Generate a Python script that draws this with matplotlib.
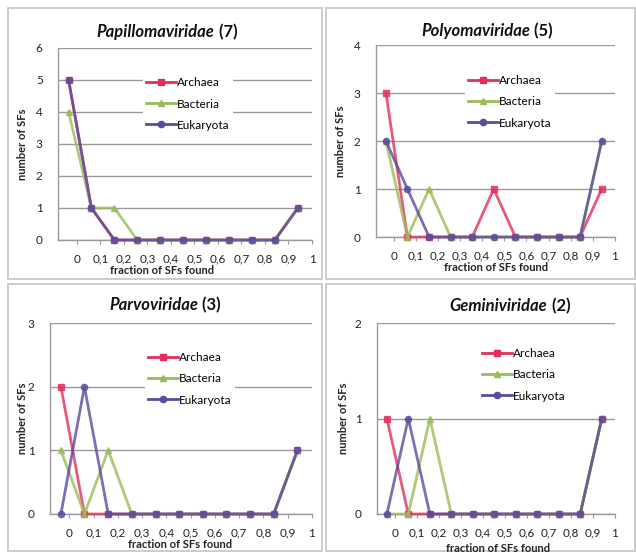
import matplotlib
matplotlib.use("Agg")
import matplotlib.pyplot as plt
from matplotlib.patches import Rectangle
from matplotlib.lines import Line2D
from matplotlib.offsetbox import TextArea, HPacker, AnchoredOffsetbox

plt.rcParams['font.family'] = ['Lato', 'DejaVu Sans']

W, H = 636, 552

# ---- data ----
bin_x = [-0.035, 0.062, 0.16, 0.257, 0.355, 0.452, 0.55, 0.647, 0.745, 0.842, 0.94]
tick_vals = [0, 0.1, 0.2, 0.3, 0.4, 0.5, 0.6, 0.7, 0.8, 0.9, 1]
tick_labels = ["0", "0,1", "0,2", "0,3", "0,4", "0,5", "0,6", "0,7", "0,8", "0,9", "1"]
series_names = ["Archaea", "Bacteria", "Eukaryota"]

families = ["Papillomaviridae", "Polyomaviridae", "Parvoviridae", "Geminiviridae"]
family_counts = ["7", "5", "3", "2"]
y_max = [6, 4, 3, 2]

papillo_archaea = [5, 1, 0, 0, 0, 0, 0, 0, 0, 0, 1]
papillo_bacteria = [4, 1, 1, 0, 0, 0, 0, 0, 0, 0, 1]
papillo_eukaryota = [5, 1, 0, 0, 0, 0, 0, 0, 0, 0, 1]

polyoma_archaea = [3, 0, 0, 0, 0, 1, 0, 0, 0, 0, 1]
polyoma_bacteria = [2, 0, 1, 0, 0, 0, 0, 0, 0, 0, 2]
polyoma_eukaryota = [2, 1, 0, 0, 0, 0, 0, 0, 0, 0, 2]

parvo_archaea = [2, 0, 0, 0, 0, 0, 0, 0, 0, 0, 1]
parvo_bacteria = [1, 0, 1, 0, 0, 0, 0, 0, 0, 0, 1]
parvo_eukaryota = [0, 2, 0, 0, 0, 0, 0, 0, 0, 0, 1]

gemini_archaea = [1, 0, 0, 0, 0, 0, 0, 0, 0, 0, 1]
gemini_bacteria = [0, 0, 1, 0, 0, 0, 0, 0, 0, 0, 1]
gemini_eukaryota = [0, 1, 0, 0, 0, 0, 0, 0, 0, 0, 1]

panel_data = [
    [papillo_archaea, papillo_bacteria, papillo_eukaryota],
    [polyoma_archaea, polyoma_bacteria, polyoma_eukaryota],
    [parvo_archaea, parvo_bacteria, parvo_eukaryota],
    [gemini_archaea, gemini_bacteria, gemini_eukaryota],
]

# ---- style ----
colors = ["#e2305a", "#9bbb59", "#5a4c9e"]
markers = ["s", "^", "o"]
grid_col = "#9a9a9a"
frame_col = "#c8c8c8"

# layout in pixels: (left, right, top, bottom)
axes_px = [(58, 312, 48, 240), (376, 615, 45, 237), (50, 312, 323, 514), (377, 615, 323, 514)]
frames_px = [(8, 322, 8, 279), (326, 635, 8, 279), (8, 322, 284, 551), (326, 635, 284, 551)]
title_px = [(167, 32), (487, 31), (165, 305), (510, 306)]
ylabel_px = [(22, 144), (340, 141), (22, 418), (343, 418)]
xlabel_px = [(162, 270), (496, 268), (180, 544), (498, 548)]
legend_px = [(188, 104), (510, 102), (190, 379), (524, 375)]

fig = plt.figure(figsize=(W / 100, H / 100), dpi=100)
fig.patch.set_facecolor("white")

for (l, r, t, b) in frames_px:
    fig.add_artist(Rectangle((l / W, 1 - b / H), (r - l) / W, (b - t) / H,
                             transform=fig.transFigure, fill=False,
                             edgecolor=frame_col, linewidth=1.3))

for i in range(4):
    l, r, t, b = axes_px[i]
    ax = fig.add_axes([l / W, 1 - b / H, (r - l) / W, (b - t) / H])
    ax.set_xlim(-0.08, 1.0)
    ax.set_ylim(0, y_max[i])
    ax.set_yticks(range(0, y_max[i] + 1))
    ax.set_xticks(tick_vals)
    ax.set_xticklabels(tick_labels)
    ax.tick_params(axis='x', length=3, color=grid_col, labelsize=8.5, pad=7, labelcolor="#222222")
    ax.tick_params(axis='y', length=0, labelsize=8.5, pad=11, labelcolor="#222222")
    for s in ["top", "right"]:
        ax.spines[s].set_visible(False)
    for s in ["left", "bottom"]:
        ax.spines[s].set_color(grid_col)
        ax.spines[s].set_linewidth(1.0)
    ax.yaxis.grid(True, color=grid_col, linewidth=1.0)
    ax.set_axisbelow(True)

    for k in range(3):
        ax.plot(bin_x, panel_data[i][k], color=colors[k], marker=markers[k],
                markersize=4.5, linewidth=2.0, alpha=0.8, clip_on=False,
                label=series_names[k], zorder=3 + k)

    handles = [Line2D([], [], color=colors[k], marker=markers[k], markersize=4.5,
                      linewidth=2.0) for k in range(3)]
    lx, ly = legend_px[i]
    leg = ax.legend(handles, series_names, loc='center',
                    bbox_to_anchor=(lx / W, 1 - ly / H), bbox_transform=fig.transFigure,
                    frameon=True, facecolor="white", edgecolor="none", framealpha=1,
                    fontsize=8.5, handlelength=2.5, handletextpad=0.1,
                    labelspacing=0.85, borderpad=0.3, fancybox=False)
    leg.set_zorder(10)

    # title
    tx, ty = title_px[i]
    ta1 = TextArea(families[i], textprops=dict(fontweight='bold', fontstyle='italic',
                                                fontsize=12, color="#111111"))
    ta2 = TextArea(" (" + family_counts[i] + ")", textprops=dict(fontweight='bold',
                                                                  fontsize=12, color="#111111"))
    box = HPacker(children=[ta1, ta2], align='baseline', pad=0, sep=0)
    anch = AnchoredOffsetbox(loc='center', child=box, pad=0, frameon=False, borderpad=0,
                             bbox_to_anchor=(tx / W, 1 - ty / H),
                             bbox_transform=fig.transFigure)
    fig.add_artist(anch)

    yx, yy = ylabel_px[i]
    fig.text(yx / W, 1 - yy / H, "number of SFs", rotation=90, ha='center', va='center',
             fontsize=8, fontweight='bold', color="#222222")
    xx, xy = xlabel_px[i]
    fig.text(xx / W, 1 - xy / H, "fraction of SFs found", ha='center', va='center',
             fontsize=8, fontweight='bold', color="#222222")

fig.savefig("out.png", dpi=100, facecolor="white")
